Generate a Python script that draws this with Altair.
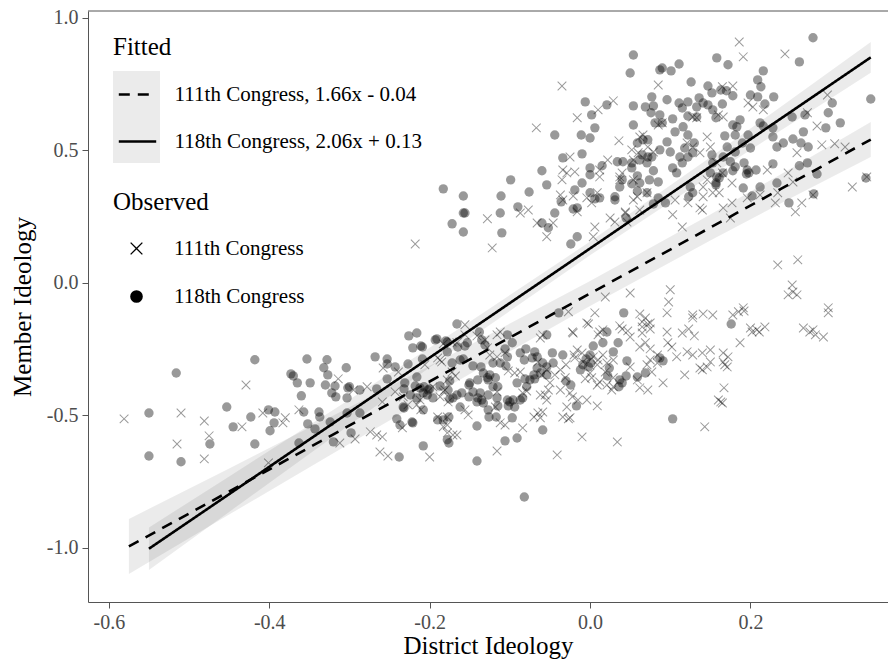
import altair as alt
import pandas as pd

# ---------------- data ----------------
# 118th Congress observations (district ideology, member ideology)
pts118 = [
    (-0.418, -0.29), (-0.516, -0.34), (-0.353, -0.287), (-0.328, -0.29), (-0.373, -0.343),
    (-0.370, -0.351), (-0.365, -0.377), (-0.349, -0.377), (-0.332, -0.32), (-0.327, -0.347),
    (-0.304, -0.32), (-0.330, -0.385), (-0.318, -0.389), (-0.322, -0.415), (-0.317, -0.43),
    (-0.300, -0.392), (-0.303, -0.434), (-0.360, -0.426), (-0.268, -0.279), (-0.550, -0.491),
    (-0.453, -0.468), (-0.445, -0.543), (-0.423, -0.506), (-0.401, -0.479), (-0.393, -0.487),
    (-0.394, -0.528), (-0.399, -0.558), (-0.357, -0.487), (-0.338, -0.487), (-0.337, -0.506),
    (-0.352, -0.532), (-0.343, -0.551), (-0.324, -0.525), (-0.474, -0.608), (-0.418, -0.608),
    (-0.550, -0.653), (-0.510, -0.675), (-0.363, -0.604), (-0.320, -0.60), (-0.298, -0.566),
    (-0.303, -0.491), (-0.287, -0.491), (-0.266, -0.40), (-0.302, -0.396), (-0.287, -0.404),
    (-0.253, -0.287), (-0.253, -0.306), (-0.243, -0.317), (-0.253, -0.362), (-0.227, -0.306),
    (-0.231, -0.377), (-0.226, -0.20), (-0.216, -0.189), (-0.221, -0.245), (-0.209, -0.242),
    (-0.193, -0.215), (-0.178, -0.223), (-0.232, -0.472), (-0.241, -0.513), (-0.237, -0.536),
    (-0.222, -0.525), (-0.221, -0.528), (-0.208, -0.479), (-0.208, -0.615), (-0.238, -0.657),
    (-0.224, -0.423), (-0.216, -0.434), (-0.208, -0.415), (-0.202, -0.404), (-0.196, -0.434),
    (-0.190, -0.517), (-0.178, -0.592), (-0.166, -0.155), (-0.191, -0.211), (-0.180, -0.219),
    (-0.211, -0.238), (-0.216, -0.355), (-0.209, -0.287), (-0.172, -0.302), (-0.165, -0.242),
    (-0.156, -0.238), (-0.153, -0.226), (-0.138, -0.185), (-0.135, -0.215), (-0.131, -0.234),
    (-0.162, -0.291), (-0.158, -0.287), (-0.146, -0.313), (-0.136, -0.317), (-0.150, -0.377),
    (-0.140, -0.366), (-0.175, -0.370), (-0.187, -0.389), (-0.218, -0.389), (-0.212, -0.396),
    (-0.207, -0.392), (-0.200, -0.40), (-0.203, -0.423), (-0.232, -0.40), (-0.233, -0.468),
    (-0.176, -0.506), (-0.183, -0.517), (-0.175, -0.438), (-0.166, -0.423), (-0.162, -0.468),
    (-0.151, -0.43), (-0.140, -0.434), (-0.137, -0.415), (-0.135, -0.442), (-0.133, -0.453),
    (-0.127, -0.423), (-0.125, -0.347), (-0.127, -0.366), (-0.118, -0.358), (-0.121, -0.392),
    (-0.115, -0.392), (-0.133, -0.34), (-0.112, -0.302), (-0.121, -0.302), (-0.105, -0.313),
    (-0.106, -0.249), (-0.097, -0.226), (-0.103, -0.196), (-0.087, -0.264), (-0.080, -0.249),
    (-0.082, -0.291), (-0.072, -0.283), (-0.069, -0.26), (-0.066, -0.279), (-0.054, -0.196),
    (-0.127, -0.479), (-0.117, -0.506), (-0.115, -0.464), (-0.103, -0.442), (-0.102, -0.464),
    (-0.094, -0.468), (-0.084, -0.434), (-0.096, -0.442), (-0.097, -0.509), (-0.106, -0.596),
    (-0.091, -0.585), (-0.075, -0.366), (-0.069, -0.362), (-0.081, -0.362), (-0.079, -0.392),
    (-0.091, -0.377), (-0.066, -0.321), (-0.059, -0.302), (-0.054, -0.317), (-0.054, -0.347),
    (-0.059, -0.555), (-0.141, -0.54), (-0.176, -0.604), (-0.141, -0.672), (-0.039, -0.113),
    (0.042, -0.113), (0.021, -0.185), (0.016, -0.226), (0.035, -0.226), (0.029, -0.26),
    (0.004, -0.238), (0.000, -0.272), (-0.005, -0.287), (-0.002, -0.317), (0.001, -0.302),
    (-0.034, -0.272), (-0.047, -0.264), (0.024, -0.321), (0.022, -0.351), (0.037, -0.366),
    (0.045, -0.351), (0.036, -0.392), (0.040, -0.377), (0.046, -0.294), (0.059, -0.355),
    (0.069, -0.34), (0.087, -0.283), (0.091, -0.294), (-0.030, -0.37), (-0.024, -0.385),
    (-0.017, -0.464), (0.103, -0.513), (-0.082, -0.808), (0.176, -0.155), (-0.009, -0.309),
    (-0.012, -0.328), (-0.046, -0.302), (-0.070, -0.347), (-0.062, -0.34), (-0.128, -0.358),
    (-0.141, -0.449), (-0.116, -0.434), (-0.100, -0.449), (-0.087, -0.442), (-0.126, -0.506),
    (-0.151, -0.385), (-0.146, -0.411), (-0.160, -0.415), (-0.103, -0.279), (-0.177, -0.404),
    (-0.171, -0.434), (-0.178, -0.26),
    (0.054, 0.86), (0.050, 0.792), (-0.006, 0.683), (0.021, 0.672), (0.002, 0.634),
    (0.054, 0.668), (0.069, 0.664), (0.079, 0.668), (0.076, 0.642), (0.077, 0.702),
    (0.054, 0.596), (0.006, 0.585), (-0.044, 0.558), (-0.011, 0.558), (0.000, 0.547),
    (0.081, 0.604), (0.059, 0.528), (0.066, 0.54), (0.072, 0.54), (-0.034, 0.472),
    (-0.010, 0.487), (-0.060, 0.423), (0.000, 0.434), (0.000, 0.408), (0.015, 0.442),
    (0.034, 0.457), (0.041, 0.457), (0.052, 0.453), (0.062, 0.464), (0.052, 0.434),
    (0.065, 0.483), (0.072, 0.475), (-0.099, 0.389), (0.087, 0.804), (0.090, 0.811),
    (0.101, 0.80), (0.111, 0.826), (0.158, 0.849), (0.172, 0.823), (0.278, 0.925),
    (0.261, 0.834), (0.216, 0.80), (0.126, 0.758), (0.147, 0.743), (0.152, 0.717),
    (0.163, 0.728), (0.170, 0.725), (0.178, 0.706), (0.209, 0.766), (0.213, 0.74),
    (0.229, 0.702), (0.209, 0.702), (0.200, 0.709), (0.218, 0.675), (0.302, 0.679),
    (0.297, 0.642), (0.312, 0.604), (0.294, 0.585), (0.350, 0.694), (0.268, 0.634),
    (0.252, 0.626), (0.266, 0.57), (0.253, 0.543), (0.263, 0.528), (0.272, 0.513),
    (0.228, 0.585), (0.228, 0.551), (0.233, 0.513), (0.241, 0.528), (0.261, 0.442),
    (0.271, 0.453), (0.283, 0.411), (0.228, 0.449), (0.233, 0.377), (0.248, 0.302),
    (0.279, 0.336), (0.344, 0.396), (0.202, 0.328), (0.212, 0.362), (0.191, 0.358),
    (0.175, 0.457), (0.181, 0.438), (0.192, 0.453), (0.196, 0.426), (0.198, 0.415),
    (0.183, 0.589), (0.187, 0.615), (0.181, 0.558), (0.212, 0.604), (0.216, 0.592),
    (0.197, 0.558), (0.168, 0.555), (0.171, 0.513), (0.166, 0.475), (0.158, 0.40),
    (0.157, 0.37), (0.150, 0.415), (0.136, 0.698), (0.141, 0.679), (0.147, 0.672),
    (0.133, 0.664), (0.122, 0.683), (0.111, 0.679), (0.096, 0.691), (0.087, 0.634),
    (0.090, 0.604), (0.103, 0.619), (0.116, 0.589), (0.122, 0.63), (0.133, 0.626),
    (0.115, 0.66), (0.153, 0.653), (0.157, 0.623), (0.165, 0.675), (0.077, 0.475),
    (0.087, 0.502), (0.096, 0.532), (0.100, 0.494), (0.106, 0.57), (0.122, 0.558),
    (0.130, 0.528), (0.118, 0.509), (0.112, 0.475), (0.122, 0.475), (0.128, 0.491),
    (0.115, 0.453), (0.103, 0.434), (0.108, 0.415), (0.152, 0.483), (0.153, 0.453),
    (0.178, 0.596), (0.190, 0.528), (0.200, 0.509), (0.181, 0.494), (0.071, 0.453),
    (0.059, 0.404), (0.079, 0.423), (0.085, 0.381), (0.074, 0.389), (0.062, 0.377),
    (0.052, 0.374), (0.059, 0.347), (0.071, 0.34), (0.040, 0.389), (0.037, 0.362),
    (0.085, 0.321), (0.094, 0.302), (0.079, 0.298), (0.045, 0.245), (0.125, 0.362),
    (0.128, 0.34), (0.123, 0.325), (0.157, 0.377), (0.161, 0.396), (0.166, 0.415),
    (0.178, 0.423), (0.207, 0.426), (0.195, 0.411), (-0.010, 0.377), (0.000, 0.34),
    (0.006, 0.317), (0.012, 0.321), (0.031, 0.325), (0.031, 0.313), (-0.016, 0.283),
    (-0.019, 0.351), (-0.021, 0.279), (-0.044, 0.264), (-0.054, 0.37), (-0.076, 0.343),
    (-0.111, 0.328), (-0.112, 0.264), (-0.110, 0.189), (-0.158, 0.328), (-0.158, 0.264),
    (-0.156, 0.264), (-0.172, 0.223), (-0.158, 0.192), (-0.183, 0.355), (-0.090, 0.287),
    (-0.052, 0.208), (-0.060, 0.226), (-0.024, 0.147), (-0.016, 0.174), (-0.036, 0.306),
]

# 111th Congress observations
pts111 = [
    (-0.581, -0.513), (-0.510, -0.491), (-0.481, -0.521), (-0.515, -0.608), (-0.481, -0.664),
    (-0.475, -0.577), (-0.429, -0.385), (-0.434, -0.543), (-0.408, -0.491), (-0.380, -0.509),
    (-0.383, -0.528), (-0.363, -0.479), (-0.401, -0.679), (-0.314, -0.362), (-0.295, -0.404),
    (-0.278, -0.392), (-0.293, -0.589), (-0.312, -0.604), (-0.274, -0.562), (-0.266, -0.574),
    (-0.252, -0.653), (-0.200, -0.657), (-0.243, -0.411), (-0.233, -0.43), (-0.216, -0.46),
    (-0.212, -0.442), (-0.196, -0.392), (-0.187, -0.291), (-0.178, -0.366), (-0.183, -0.411),
    (-0.177, -0.449), (-0.178, -0.506), (-0.178, -0.536), (-0.178, -0.566), (-0.234, -0.547),
    (-0.227, -0.46), (-0.156, -0.158), (-0.112, -0.185), (-0.116, -0.196), (-0.062, -0.208),
    (-0.059, -0.196), (-0.190, -0.283), (-0.185, -0.298), (-0.172, -0.336), (-0.168, -0.351),
    (-0.206, -0.309), (-0.239, -0.336), (-0.258, -0.321), (-0.211, -0.479), (-0.187, -0.43),
    (-0.181, -0.404), (-0.190, -0.506), (-0.183, -0.543), (-0.171, -0.574), (-0.166, -0.574),
    (-0.156, -0.479), (-0.152, -0.498), (-0.116, -0.411), (-0.118, -0.468), (-0.112, -0.528),
    (-0.106, -0.536), (-0.094, -0.34), (-0.087, -0.336), (-0.102, -0.332), (-0.084, -0.415),
    (-0.079, -0.408), (-0.070, -0.506), (-0.065, -0.491), (-0.062, -0.509), (-0.059, -0.487),
    (-0.054, -0.442), (-0.056, -0.423), (-0.060, -0.347), (-0.065, -0.298), (-0.084, -0.547),
    (-0.116, -0.634), (-0.259, -0.449), (-0.259, -0.581), (-0.262, -0.638), (-0.183, -0.23),
    (-0.172, -0.223), (-0.166, -0.226), (-0.156, -0.196), (-0.141, -0.20), (-0.131, -0.215),
    (-0.128, -0.245), (-0.116, -0.279), (-0.125, -0.272), (-0.106, -0.264), (-0.054, -0.328),
    (-0.027, -0.109), (0.006, -0.113), (0.062, -0.117), (0.069, -0.132), (0.075, -0.151),
    (0.065, -0.147), (0.096, -0.113), (0.128, -0.132), (0.141, -0.117), (0.153, -0.121),
    (-0.002, -0.155), (-0.022, -0.185), (0.010, -0.196), (0.016, -0.177), (0.037, -0.162),
    (0.047, -0.181), (0.050, -0.204), (0.065, -0.189), (0.075, -0.174), (0.069, -0.226),
    (0.062, -0.242), (0.075, -0.249), (0.096, -0.185), (0.115, -0.189), (0.123, -0.174),
    (0.130, -0.20), (0.097, -0.226), (0.102, -0.242), (0.121, -0.26), (0.128, -0.272),
    (0.140, -0.264), (0.150, -0.253), (0.150, -0.298), (0.140, -0.328), (0.118, -0.347),
    (0.108, -0.279), (0.075, -0.291), (0.084, -0.302), (0.071, -0.309), (0.077, -0.336),
    (0.091, -0.377), (0.062, -0.396), (0.072, -0.404), (0.050, -0.317), (0.059, -0.366),
    (0.019, -0.336), (0.012, -0.374), (0.021, -0.385), (0.027, -0.404), (-0.016, -0.253),
    (-0.010, -0.264), (-0.019, -0.283), (-0.009, -0.298), (0.004, -0.279), (0.009, -0.309),
    (0.000, -0.34), (0.002, -0.358), (-0.006, -0.362), (0.009, -0.385), (-0.037, -0.328),
    (-0.044, -0.347), (-0.031, -0.358), (-0.037, -0.404), (-0.025, -0.415), (-0.015, -0.442),
    (-0.004, -0.442), (0.009, -0.464), (-0.029, -0.468), (-0.034, -0.506), (-0.025, -0.509),
    (0.160, -0.442), (0.143, -0.543), (-0.021, -0.189), (0.012, -0.185), (0.040, -0.174),
    (0.065, -0.166), (0.072, -0.155), (-0.020, -0.272), (0.010, -0.291), (0.016, -0.272),
    (0.021, -0.302), (0.029, -0.291), (0.084, -0.272), (0.137, -0.321), (0.146, -0.317),
    (0.166, -0.264), (0.172, -0.279), (0.166, -0.298), (0.171, -0.317), (0.187, -0.226),
    (0.200, -0.17), (0.208, -0.177), (0.218, -0.166), (0.266, -0.17), (0.274, -0.185),
    (0.281, -0.196), (0.291, -0.204), (0.167, -0.396), (0.163, -0.449), (0.029, -0.358),
    (0.029, -0.392), (-0.010, -0.581), (0.034, -0.60), (-0.041, -0.649), (-0.027, -0.513),
    (-0.022, -0.43), (-0.050, -0.377), (-0.052, -0.404), (-0.062, -0.423), (-0.030, -0.309),
    (0.234, 0.068), (0.259, 0.087), (0.252, -0.008), (0.247, -0.045), (0.258, -0.045),
    (0.253, -0.034), (0.297, -0.113), (0.185, -0.109), (0.192, -0.106), (0.202, -0.185),
    (0.211, -0.185), (0.278, -0.177), (0.168, -0.309), (0.165, -0.453), (0.327, 0.362),
    (0.100, -0.026), (0.098, -0.072), (0.191, -0.094), (0.297, -0.094), (-0.004, -0.151),
    (0.178, -0.121), (0.128, -0.121), (0.019, -0.053), (0.050, -0.038),
    (0.140, 0.275), (0.177, 0.302), (0.166, 0.283), (0.175, 0.245), (0.103, 0.257),
    (0.115, 0.211), (0.122, 0.302), (0.231, 0.302), (0.234, 0.34), (0.264, 0.302),
    (0.256, 0.268), (0.278, 0.332), (0.161, 0.34), (-0.128, 0.242), (-0.122, 0.132),
    (-0.087, 0.264), (-0.077, 0.275), (-0.066, 0.226), (-0.046, 0.226), (-0.054, 0.174),
    (-0.037, 0.332), (-0.016, 0.268), (-0.021, 0.328), (0.006, 0.211), (0.004, 0.174),
    (0.025, 0.245), (0.031, 0.23), (0.044, 0.264), (0.046, 0.23), (0.059, 0.325),
    (0.062, 0.275), (-0.004, 0.321), (0.009, 0.34), (-0.035, 0.743), (-0.067, 0.585),
    (-0.016, 0.623), (0.010, 0.653), (0.029, 0.687), (0.036, 0.536), (-0.025, 0.475),
    (-0.034, 0.426), (-0.029, 0.415), (0.040, 0.415), (0.037, 0.40), (0.012, 0.40),
    (0.085, 0.747), (0.066, 0.558), (0.072, 0.513), (0.052, 0.502), (0.060, 0.491),
    (0.186, 0.909), (0.191, 0.853), (0.243, 0.864), (0.178, 0.743), (0.165, 0.74),
    (0.296, 0.709), (0.203, 0.664), (0.197, 0.679), (0.216, 0.653), (0.166, 0.626),
    (0.160, 0.634), (0.128, 0.626), (0.133, 0.623), (0.090, 0.604), (0.085, 0.596),
    (0.271, 0.642), (0.283, 0.592), (0.289, 0.521), (0.305, 0.525), (0.318, 0.513),
    (0.345, 0.40), (0.258, 0.491), (0.221, 0.426), (0.247, 0.415), (0.253, 0.381),
    (0.177, 0.377), (0.212, 0.332), (0.196, 0.321), (0.137, 0.283), (0.141, 0.325),
    (0.106, 0.313), (0.146, 0.551), (0.150, 0.513), (0.137, 0.491), (0.128, 0.513),
    (0.121, 0.528), (0.158, 0.453), (0.165, 0.415), (0.146, 0.389), (0.141, 0.362),
    (0.153, 0.34), (0.062, 0.551), (0.079, 0.494), (0.054, 0.464), (0.037, 0.389),
    (0.054, 0.389), (0.071, 0.34), (0.054, 0.313), (0.044, 0.268), (0.022, 0.464),
    (0.012, 0.426), (0.002, 0.302), (-0.035, 0.389), (-0.034, 0.313), (-0.019, 0.419),
    (-0.218, 0.147),
]

congress_names = ["111th Congress", "118th Congress"]
fit_labels = ["111th Congress, 1.66x - 0.04", "118th Congress, 2.06x + 0.13"]
fit_slope = [1.66, 2.06]
fit_intercept = [-0.04, 0.13]
fit_xrange = [(-0.575, 0.35), (-0.55, 0.35)]

# confidence band half-widths
band_x = [[-0.575, -0.45, -0.3, -0.15, 0.0, 0.15, 0.25, 0.35],
          [-0.55, -0.45, -0.3, -0.15, 0.0, 0.15, 0.25, 0.35]]
band_half = [[0.104, 0.087, 0.069, 0.055, 0.047, 0.049, 0.056, 0.066],
             [0.080, 0.067, 0.048, 0.032, 0.026, 0.035, 0.046, 0.058]]

x_ticks = [-0.6, -0.4, -0.2, 0.0, 0.2]
y_ticks = [-1.0, -0.5, 0.0, 0.5, 1.0]

# ---------------- tables ----------------
obs = pd.DataFrame(
    [{"x": a, "y": b, "congress": congress_names[0]} for a, b in pts111]
    + [{"x": a, "y": b, "congress": congress_names[1]} for a, b in pts118]
)

lines_rows, band_rows = [], []
for i in range(2):
    for xv in fit_xrange[i]:
        lines_rows.append({"x": xv, "y": fit_slope[i] * xv + fit_intercept[i], "fit": fit_labels[i]})
    for xv, h in zip(band_x[i], band_half[i]):
        yc = fit_slope[i] * xv + fit_intercept[i]
        band_rows.append({"x": xv, "lo": yc - h, "hi": yc + h, "fit": fit_labels[i]})
lines_df = pd.DataFrame(lines_rows)
band_df = pd.DataFrame(band_rows)

W, H = 800, 591
FONT = "Liberation Serif"
XDOM = [-0.626, 0.3715]
YDOM = [-1.204, 1.026]

neg_fmt = "datum.value < 0 ? '-' + format(-datum.value, '.1f') : format(datum.value, '.1f')"

xscale = alt.Scale(domain=XDOM, nice=False, zero=False)
yscale = alt.Scale(domain=YDOM, nice=False, zero=False)

xenc = alt.X("x:Q", scale=xscale, axis=alt.Axis(
    values=x_ticks, labelExpr=neg_fmt, title="District Ideology",
    titleY=51, titleBaseline="alphabetic"))
yenc = alt.Y("y:Q", scale=yscale, axis=alt.Axis(
    values=y_ticks, labelExpr=neg_fmt, title="Member Ideology",
    titleX=-58, titleBaseline="alphabetic"))

one = pd.DataFrame({"a": [0]})
key_bg = alt.Chart(one).mark_rect(color="#ebebeb").encode(
    x=alt.value(25), x2=alt.value(72), y=alt.value(60), y2=alt.value(152))
top_border = alt.Chart(one).mark_rule(color="#555555", strokeWidth=1).encode(
    x=alt.value(0), x2=alt.value(W), y=alt.value(0))

bands = alt.Chart(band_df).mark_area(color="black", opacity=0.08).encode(
    x=alt.X("x:Q", scale=xscale),
    y=alt.Y("lo:Q", scale=yscale),
    y2="hi:Q",
    detail="fit:N",
)

# a thin filled "x" outline, so that it shows both in the plot and in the legend
cross_path = ("M-1,-0.85L-0.85,-1L0,-0.15L0.85,-1L1,-0.85L0.15,0L1,0.85L0.85,1"
              "L0,0.15L-0.85,1L-1,0.85L-0.15,0Z")
points = alt.Chart(obs).mark_point(
    filled=True, fill="black", fillOpacity=0.4, strokeWidth=0, size=88,
).encode(
    x=xenc, y=yenc,
    shape=alt.Shape("congress:N", scale=alt.Scale(domain=congress_names, range=[cross_path, "circle"]),
                    legend=alt.Legend(
                        title="Observed", orient="none", legendX=25, legendY=179,
                        symbolSize=160, symbolOffset=13, labelOffset=27, rowPadding=26,
                        titlePadding=23, symbolFillColor="black", symbolStrokeColor="black",
                        symbolOpacity=1, symbolStrokeWidth=0)),
)

lines = alt.Chart(lines_df).mark_line(color="black", strokeWidth=2.6).encode(
    x=alt.X("x:Q", scale=xscale),
    y=alt.Y("y:Q", scale=yscale),
    strokeDash=alt.StrokeDash("fit:N", scale=alt.Scale(domain=fit_labels, range=[[11, 8], [1, 0]]),
                              legend=alt.Legend(
                                  title="Fitted", orient="none", legendX=25, legendY=24,
                                  symbolSize=1400, symbolStrokeWidth=2.6, symbolOffset=4,
                                  labelOffset=16.6, rowPadding=16, titlePadding=14)),
)

chart = alt.layer(key_bg, bands, points, lines, top_border).properties(
    width=W, height=H,
    autosize=alt.AutoSizeParams(type="none"),
    padding={"left": 80, "top": 3, "right": 0, "bottom": 58},
).configure_view(stroke=None).configure_axis(
    grid=False, domainColor="#555555", tickColor="#555555", tickSize=6, tickWidth=1,
    labelFont=FONT, labelFontSize=20, labelColor="#4d4d4d", labelPadding=4,
    titleFont=FONT, titleFontSize=25, titleFontWeight="normal", titleColor="black",
).configure_legend(
    labelFont=FONT, labelFontSize=21, labelColor="black", labelLimit=500,
    titleFont=FONT, titleFontSize=25, titleFontWeight="normal", titleColor="black",
    padding=0,
)

chart.save("out.html", embed_options={"renderer": "svg", "actions": False})
